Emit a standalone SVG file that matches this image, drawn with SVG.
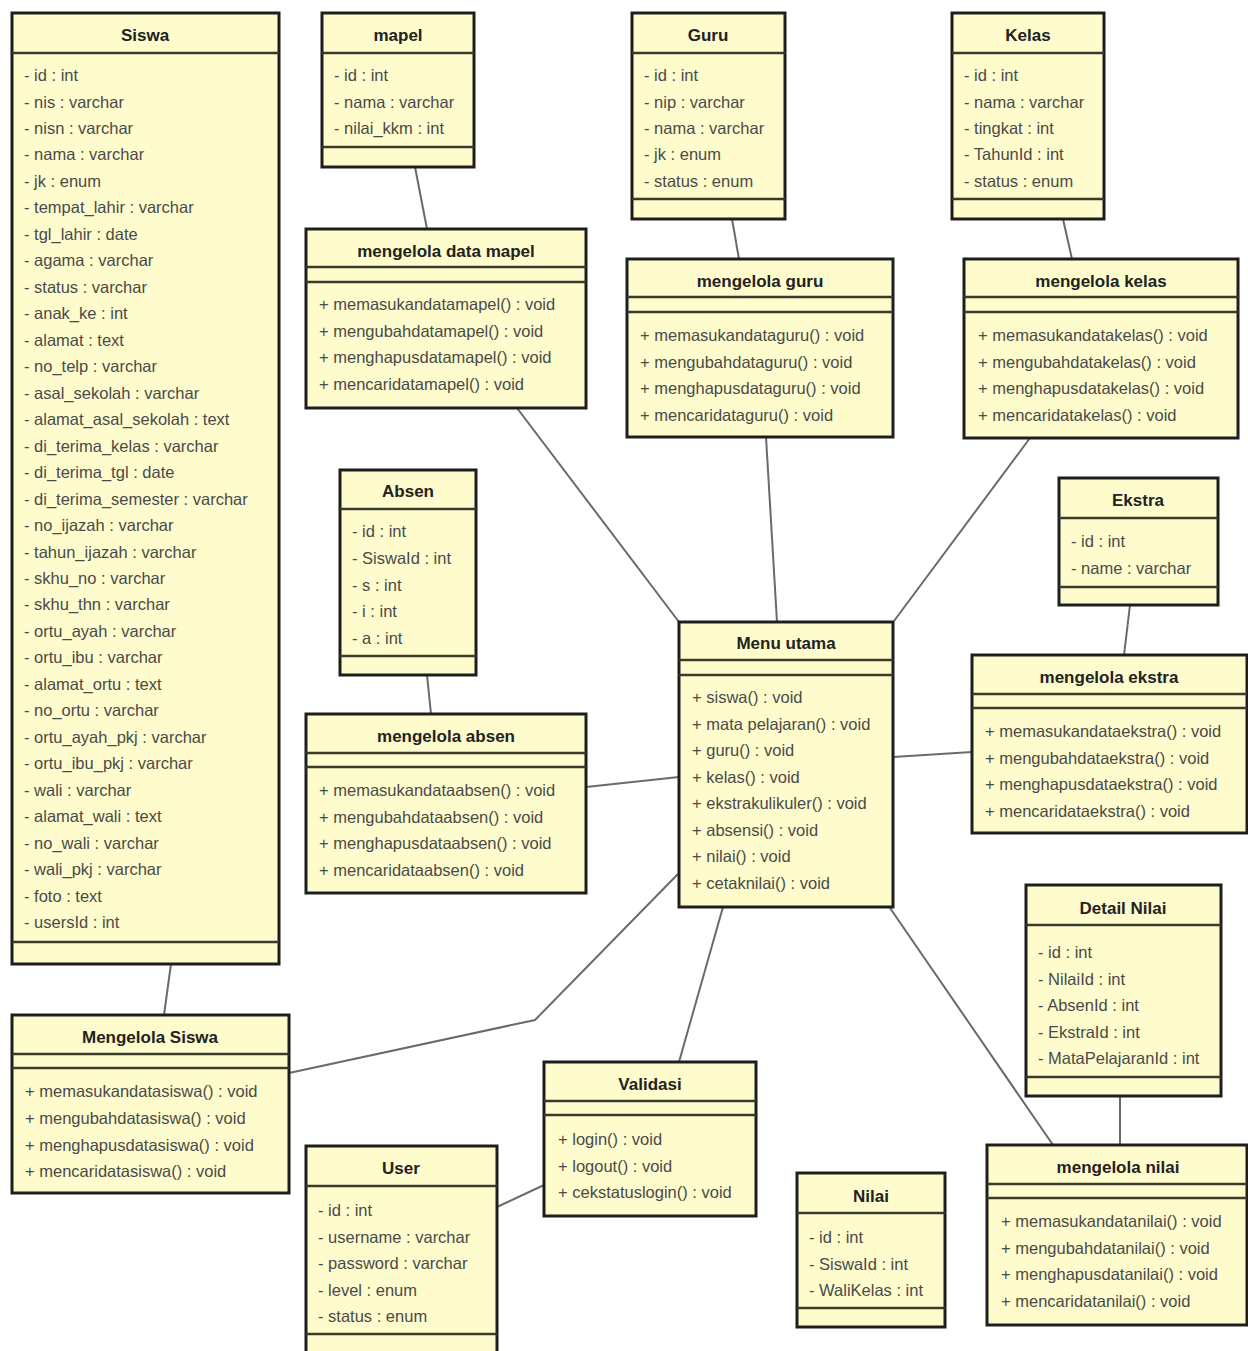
<svg xmlns="http://www.w3.org/2000/svg" width="1248" height="1351" viewBox="0 0 1248 1351">
  <style>
    .box { fill: #fefccc; stroke: #1e1e1e; stroke-width: 3; }
    .sep { stroke: #3a3a2c; stroke-width: 2.5; }
    .conn { fill: none; stroke: #6a6a6a; stroke-width: 2; }
    text { font-family: "Liberation Sans", Arial, sans-serif; dominant-baseline: central; }
    .t { font-size: 17px; font-weight: bold; fill: #222222; text-anchor: middle; }
    .m { font-size: 16.5px; fill: #4a4a4a; }
  </style>
  <rect x="0" y="0" width="1248" height="1351" fill="#ffffff"/>

  <!-- associations -->
  <g id="connectors">
    <line class="conn" x1="171" y1="964" x2="164" y2="1015"/>
    <line class="conn" x1="415" y1="167" x2="427" y2="229"/>
    <line class="conn" x1="732" y1="219" x2="739" y2="259"/>
    <line class="conn" x1="1063" y1="219" x2="1072" y2="259"/>
    <line class="conn" x1="427" y1="675" x2="431" y2="714"/>
    <line class="conn" x1="1130" y1="605" x2="1124" y2="655"/>
    <line class="conn" x1="1120" y1="1096" x2="1120" y2="1145"/>
    <line class="conn" x1="517" y1="408" x2="679" y2="622"/>
    <line class="conn" x1="766" y1="437" x2="777" y2="622"/>
    <line class="conn" x1="1030" y1="438" x2="894" y2="621"/>
    <line class="conn" x1="586" y1="787" x2="679" y2="777"/>
    <line class="conn" x1="972" y1="752" x2="893" y2="757"/>
    <polyline class="conn" points="678,874 535,1020 289,1073"/>
    <line class="conn" x1="723" y1="907" x2="679" y2="1062"/>
    <line class="conn" x1="890" y1="908" x2="1053" y2="1145"/>
    <line class="conn" x1="497" y1="1207" x2="544" y2="1185"/>
  </g>

  <g id="siswa">
    <rect class="box" x="12" y="13" width="267" height="951"/>
    <line class="sep" x1="12" y1="53" x2="279" y2="53"/>
    <line class="sep" x1="12" y1="942" x2="279" y2="942"/>
    <text class="t" x="145" y="35">Siswa</text>
    <text class="m" x="24" y="75">- id : int</text>
    <text class="m" x="24" y="101.5">- nis : varchar</text>
    <text class="m" x="24" y="128">- nisn : varchar</text>
    <text class="m" x="24" y="154.4">- nama : varchar</text>
    <text class="m" x="24" y="180.9">- jk : enum</text>
    <text class="m" x="24" y="207.4">- tempat_lahir : varchar</text>
    <text class="m" x="24" y="233.8">- tgl_lahir : date</text>
    <text class="m" x="24" y="260.3">- agama : varchar</text>
    <text class="m" x="24" y="286.8">- status : varchar</text>
    <text class="m" x="24" y="313.2">- anak_ke : int</text>
    <text class="m" x="24" y="339.7">- alamat : text</text>
    <text class="m" x="24" y="366.2">- no_telp : varchar</text>
    <text class="m" x="24" y="392.6">- asal_sekolah : varchar</text>
    <text class="m" x="24" y="419.1">- alamat_asal_sekolah : text</text>
    <text class="m" x="24" y="445.6">- di_terima_kelas : varchar</text>
    <text class="m" x="24" y="472">- di_terima_tgl : date</text>
    <text class="m" x="24" y="498.5">- di_terima_semester : varchar</text>
    <text class="m" x="24" y="525">- no_ijazah : varchar</text>
    <text class="m" x="24" y="551.5">- tahun_ijazah : varchar</text>
    <text class="m" x="24" y="577.9">- skhu_no : varchar</text>
    <text class="m" x="24" y="604.4">- skhu_thn : varchar</text>
    <text class="m" x="24" y="630.9">- ortu_ayah : varchar</text>
    <text class="m" x="24" y="657.3">- ortu_ibu : varchar</text>
    <text class="m" x="24" y="683.8">- alamat_ortu : text</text>
    <text class="m" x="24" y="710.3">- no_ortu : varchar</text>
    <text class="m" x="24" y="736.7">- ortu_ayah_pkj : varchar</text>
    <text class="m" x="24" y="763.2">- ortu_ibu_pkj : varchar</text>
    <text class="m" x="24" y="789.7">- wali : varchar</text>
    <text class="m" x="24" y="816.1">- alamat_wali : text</text>
    <text class="m" x="24" y="842.6">- no_wali : varchar</text>
    <text class="m" x="24" y="869.1">- wali_pkj : varchar</text>
    <text class="m" x="24" y="895.5">- foto : text</text>
    <text class="m" x="24" y="922">- usersId : int</text>
  </g>

  <g id="mapel">
    <rect class="box" x="322" y="13" width="152" height="154"/>
    <line class="sep" x1="322" y1="53" x2="474" y2="53"/>
    <line class="sep" x1="322" y1="147" x2="474" y2="147"/>
    <text class="t" x="398" y="35">mapel</text>
    <text class="m" x="334" y="75">- id : int</text>
    <text class="m" x="334" y="101.5">- nama : varchar</text>
    <text class="m" x="334" y="128">- nilai_kkm : int</text>
  </g>

  <g id="guru">
    <rect class="box" x="632" y="13" width="153" height="206"/>
    <line class="sep" x1="632" y1="53" x2="785" y2="53"/>
    <line class="sep" x1="632" y1="199" x2="785" y2="199"/>
    <text class="t" x="708" y="35">Guru</text>
    <text class="m" x="644" y="75">- id : int</text>
    <text class="m" x="644" y="101.5">- nip : varchar</text>
    <text class="m" x="644" y="128">- nama : varchar</text>
    <text class="m" x="644" y="154.4">- jk : enum</text>
    <text class="m" x="644" y="180.9">- status : enum</text>
  </g>

  <g id="kelas">
    <rect class="box" x="952" y="13" width="152" height="206"/>
    <line class="sep" x1="952" y1="53" x2="1104" y2="53"/>
    <line class="sep" x1="952" y1="199" x2="1104" y2="199"/>
    <text class="t" x="1028" y="35">Kelas</text>
    <text class="m" x="964" y="75">- id : int</text>
    <text class="m" x="964" y="101.5">- nama : varchar</text>
    <text class="m" x="964" y="128">- tingkat : int</text>
    <text class="m" x="964" y="154.4">- TahunId : int</text>
    <text class="m" x="964" y="180.9">- status : enum</text>
  </g>

  <g id="mengelola-data-mapel">
    <rect class="box" x="306" y="229" width="280" height="179"/>
    <line class="sep" x1="306" y1="267" x2="586" y2="267"/>
    <line class="sep" x1="306" y1="282" x2="586" y2="282"/>
    <text class="t" x="446" y="251">mengelola data mapel</text>
    <text class="m" x="319" y="304">+ memasukandatamapel() : void</text>
    <text class="m" x="319" y="330.5">+ mengubahdatamapel() : void</text>
    <text class="m" x="319" y="357">+ menghapusdatamapel() : void</text>
    <text class="m" x="319" y="383.5">+ mencaridatamapel() : void</text>
  </g>

  <g id="mengelola-guru">
    <rect class="box" x="627" y="259" width="266" height="178"/>
    <line class="sep" x1="627" y1="297" x2="893" y2="297"/>
    <line class="sep" x1="627" y1="312" x2="893" y2="312"/>
    <text class="t" x="760" y="281">mengelola guru</text>
    <text class="m" x="640" y="335">+ memasukandataguru() : void</text>
    <text class="m" x="640" y="361.5">+ mengubahdataguru() : void</text>
    <text class="m" x="640" y="388">+ menghapusdataguru() : void</text>
    <text class="m" x="640" y="414.5">+ mencaridataguru() : void</text>
  </g>

  <g id="mengelola-kelas">
    <rect class="box" x="964" y="259" width="274" height="179"/>
    <line class="sep" x1="964" y1="297" x2="1238" y2="297"/>
    <line class="sep" x1="964" y1="312" x2="1238" y2="312"/>
    <text class="t" x="1101" y="281">mengelola kelas</text>
    <text class="m" x="978" y="335">+ memasukandatakelas() : void</text>
    <text class="m" x="978" y="361.5">+ mengubahdatakelas() : void</text>
    <text class="m" x="978" y="388">+ menghapusdatakelas() : void</text>
    <text class="m" x="978" y="414.5">+ mencaridatakelas() : void</text>
  </g>

  <g id="absen">
    <rect class="box" x="340" y="470" width="136" height="205"/>
    <line class="sep" x1="340" y1="509" x2="476" y2="509"/>
    <line class="sep" x1="340" y1="656" x2="476" y2="656"/>
    <text class="t" x="408" y="491">Absen</text>
    <text class="m" x="352" y="531">- id : int</text>
    <text class="m" x="352" y="558">- SiswaId : int</text>
    <text class="m" x="352" y="584.5">- s : int</text>
    <text class="m" x="352" y="611">- i : int</text>
    <text class="m" x="352" y="637.5">- a : int</text>
  </g>

  <g id="mengelola-absen">
    <rect class="box" x="306" y="714" width="280" height="179"/>
    <line class="sep" x1="306" y1="753" x2="586" y2="753"/>
    <line class="sep" x1="306" y1="767" x2="586" y2="767"/>
    <text class="t" x="446" y="736">mengelola absen</text>
    <text class="m" x="319" y="790">+ memasukandataabsen() : void</text>
    <text class="m" x="319" y="816.5">+ mengubahdataabsen() : void</text>
    <text class="m" x="319" y="843">+ menghapusdataabsen() : void</text>
    <text class="m" x="319" y="869.5">+ mencaridataabsen() : void</text>
  </g>

  <g id="menu-utama">
    <rect class="box" x="679" y="622" width="214" height="285"/>
    <line class="sep" x1="679" y1="660" x2="893" y2="660"/>
    <line class="sep" x1="679" y1="675" x2="893" y2="675"/>
    <text class="t" x="786" y="643">Menu utama</text>
    <text class="m" x="692" y="697">+ siswa() : void</text>
    <text class="m" x="692" y="723.5">+ mata pelajaran() : void</text>
    <text class="m" x="692" y="750">+ guru() : void</text>
    <text class="m" x="692" y="776.5">+ kelas() : void</text>
    <text class="m" x="692" y="803">+ ekstrakulikuler() : void</text>
    <text class="m" x="692" y="829.5">+ absensi() : void</text>
    <text class="m" x="692" y="856">+ nilai() : void</text>
    <text class="m" x="692" y="882.5">+ cetaknilai() : void</text>
  </g>

  <g id="ekstra">
    <rect class="box" x="1059" y="478" width="159" height="127"/>
    <line class="sep" x1="1059" y1="518" x2="1218" y2="518"/>
    <line class="sep" x1="1059" y1="587" x2="1218" y2="587"/>
    <text class="t" x="1138" y="500">Ekstra</text>
    <text class="m" x="1071" y="541">- id : int</text>
    <text class="m" x="1071" y="567.5">- name : varchar</text>
  </g>

  <g id="mengelola-ekstra">
    <rect class="box" x="972" y="655" width="275" height="178"/>
    <line class="sep" x1="972" y1="694" x2="1247" y2="694"/>
    <line class="sep" x1="972" y1="708" x2="1247" y2="708"/>
    <text class="t" x="1109" y="677">mengelola ekstra</text>
    <text class="m" x="985" y="731">+ memasukandataekstra() : void</text>
    <text class="m" x="985" y="757.5">+ mengubahdataekstra() : void</text>
    <text class="m" x="985" y="784">+ menghapusdataekstra() : void</text>
    <text class="m" x="985" y="810.5">+ mencaridataekstra() : void</text>
  </g>

  <g id="detail-nilai">
    <rect class="box" x="1026" y="885" width="195" height="211"/>
    <line class="sep" x1="1026" y1="925" x2="1221" y2="925"/>
    <line class="sep" x1="1026" y1="1077" x2="1221" y2="1077"/>
    <text class="t" x="1123" y="908">Detail Nilai</text>
    <text class="m" x="1038" y="952">- id : int</text>
    <text class="m" x="1038" y="978.5">- NilaiId : int</text>
    <text class="m" x="1038" y="1005">- AbsenId : int</text>
    <text class="m" x="1038" y="1031.5">- EkstraId : int</text>
    <text class="m" x="1038" y="1058">- MataPelajaranId : int</text>
  </g>

  <g id="mengelola-nilai">
    <rect class="box" x="987" y="1145" width="260" height="180"/>
    <line class="sep" x1="987" y1="1184" x2="1247" y2="1184"/>
    <line class="sep" x1="987" y1="1198" x2="1247" y2="1198"/>
    <text class="t" x="1118" y="1167">mengelola nilai</text>
    <text class="m" x="1001" y="1221">+ memasukandatanilai() : void</text>
    <text class="m" x="1001" y="1247.5">+ mengubahdatanilai() : void</text>
    <text class="m" x="1001" y="1274">+ menghapusdatanilai() : void</text>
    <text class="m" x="1001" y="1300.5">+ mencaridatanilai() : void</text>
  </g>

  <g id="nilai">
    <rect class="box" x="797" y="1173" width="148" height="154"/>
    <line class="sep" x1="797" y1="1213" x2="945" y2="1213"/>
    <line class="sep" x1="797" y1="1308" x2="945" y2="1308"/>
    <text class="t" x="871" y="1196">Nilai</text>
    <text class="m" x="809" y="1237">- id : int</text>
    <text class="m" x="809" y="1263.5">- SiswaId : int</text>
    <text class="m" x="809" y="1290">- WaliKelas : int</text>
  </g>

  <g id="validasi">
    <rect class="box" x="544" y="1062" width="212" height="154"/>
    <line class="sep" x1="544" y1="1101" x2="756" y2="1101"/>
    <line class="sep" x1="544" y1="1115" x2="756" y2="1115"/>
    <text class="t" x="650" y="1084">Validasi</text>
    <text class="m" x="558" y="1139">+ login() : void</text>
    <text class="m" x="558" y="1165.5">+ logout() : void</text>
    <text class="m" x="558" y="1192">+ cekstatuslogin() : void</text>
  </g>

  <g id="user">
    <rect class="box" x="306" y="1146" width="191" height="212"/>
    <line class="sep" x1="306" y1="1186" x2="497" y2="1186"/>
    <line class="sep" x1="306" y1="1334" x2="497" y2="1334"/>
    <text class="t" x="401" y="1168">User</text>
    <text class="m" x="318" y="1210">- id : int</text>
    <text class="m" x="318" y="1236.5">- username : varchar</text>
    <text class="m" x="318" y="1263">- password : varchar</text>
    <text class="m" x="318" y="1289.5">- level : enum</text>
    <text class="m" x="318" y="1316">- status : enum</text>
  </g>

  <g id="mengelola-siswa">
    <rect class="box" x="12" y="1015" width="277" height="178"/>
    <line class="sep" x1="12" y1="1054" x2="289" y2="1054"/>
    <line class="sep" x1="12" y1="1068" x2="289" y2="1068"/>
    <text class="t" x="150" y="1037">Mengelola Siswa</text>
    <text class="m" x="25" y="1091">+ memasukandatasiswa() : void</text>
    <text class="m" x="25" y="1118">+ mengubahdatasiswa() : void</text>
    <text class="m" x="25" y="1144.5">+ menghapusdatasiswa() : void</text>
    <text class="m" x="25" y="1171">+ mencaridatasiswa() : void</text>
  </g>
</svg>
